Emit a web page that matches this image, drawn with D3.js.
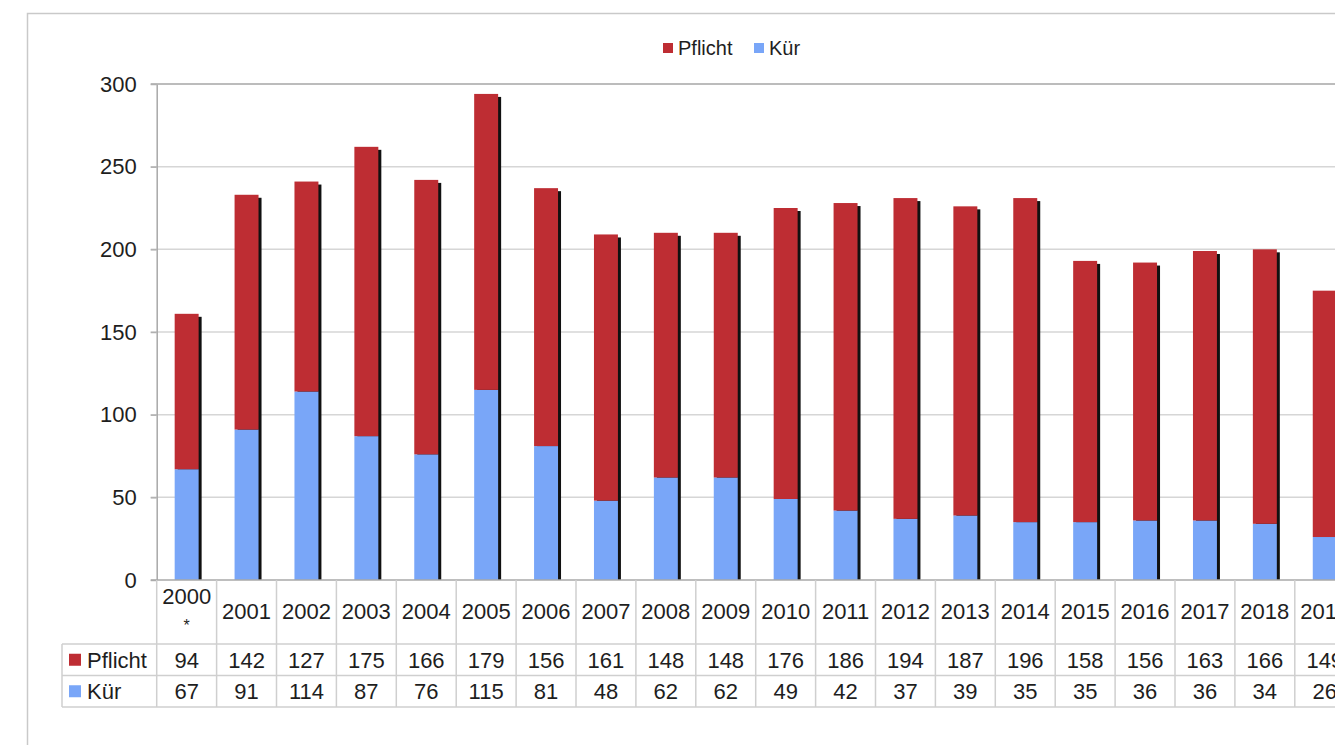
<!DOCTYPE html>
<html>
<head>
<meta charset="utf-8">
<script src="https://cdn.jsdelivr.net/npm/d3@7"></script>
<style>
  body { margin: 0; background: #fff; }
  svg { display: block; font-family: "Liberation Sans", Arial, sans-serif; }
</style>
</head>
<body>
<svg id="chart"></svg>
<script>
const years = ['2000 *', '2001', '2002', '2003', '2004', '2005', '2006', '2007', '2008', '2009',
  '2010', '2011', '2012', '2013', '2014', '2015', '2016', '2017', '2018', '2019'];
const pflicht = [94, 142, 127, 175, 166, 179, 156, 161, 148, 148, 176, 186, 194, 187, 196, 158, 156, 163, 166, 149];
const kuer = [67, 91, 114, 87, 76, 115, 81, 48, 62, 62, 49, 42, 37, 39, 35, 35, 36, 36, 34, 26];
const yTicks = [0, 50, 100, 150, 200, 250, 300];
const seriesNames = ['Pflicht', 'Kür'];
const colors = { 'Pflicht': '#be2d33', 'Kür': '#79a6f8' };

const W = 1335, H = 745;
const plot = { left: 156.7, top: 84, bottom: 580, step: 59.9 };
plot.right = plot.left + plot.step * years.length;

const svg = d3.select('#chart').attr('width', W).attr('height', H);
svg.append('rect').attr('width', W).attr('height', H).attr('fill', '#fff');

// outer frame (runs past the window on the right / bottom)
svg.append('rect')
  .attr('x', 27.5).attr('y', 13.5).attr('width', 1420).attr('height', 800)
  .attr('fill', 'none').attr('stroke', '#c9c9c9').attr('stroke-width', 1.5);

const x = d3.scaleBand().domain(years).range([plot.left, plot.right]).padding(0);
const xb = d3.scaleBand().domain(years).range([plot.left, plot.right])
  .paddingInner(0.6).paddingOuter(0.3);
const y = d3.scaleLinear().domain([0, 300]).range([plot.bottom, plot.top]);

// gridlines
svg.append('g').selectAll('line')
  .data(yTicks.filter(d => d > 0))
  .join('line')
  .attr('x1', plot.left - 6).attr('x2', plot.right)
  .attr('y1', d => y(d)).attr('y2', d => y(d))
  .attr('stroke', d => d === 300 ? '#bcbcbc' : '#d6d6d6')
  .attr('stroke-width', d => d === 300 ? 2 : 1.5);

// y axis
const yAxis = svg.append('g')
  .attr('transform', `translate(${plot.left},0)`)
  .call(d3.axisLeft(y).tickValues(yTicks).tickSize(6).tickPadding(14).tickSizeOuter(0));
yAxis.select('.domain').attr('stroke', '#a8a8a8').attr('stroke-width', 1.5);
yAxis.selectAll('.tick line').attr('stroke', '#b0b0b0').attr('stroke-width', 1.5);
yAxis.selectAll('.tick text')
  .attr('font-size', 22).attr('fill', '#1e1e1e')
  .attr('font-family', '"Liberation Sans", Arial, sans-serif');

// stacked data
const rows = years.map((yr, i) => ({ year: yr, 'Kür': kuer[i], 'Pflicht': pflicht[i] }));
const stack = d3.stack().keys(['Kür', 'Pflicht'])(rows);
const totals = rows.map(r => r['Kür'] + r['Pflicht']);

// shadows
svg.append('g').selectAll('rect')
  .data(rows)
  .join('rect')
  .attr('x', d => xb(d.year) + 3)
  .attr('y', (d, i) => y(totals[i]) + 3)
  .attr('width', xb.bandwidth())
  .attr('height', (d, i) => y(0) - y(totals[i]) - 3)
  .attr('fill', '#111');

svg.append('g').selectAll('g')
  .data(stack)
  .join('g')
  .attr('fill', s => colors[s.key])
  .selectAll('rect')
  .data(s => s)
  .join('rect')
  .attr('x', d => xb(d.data.year))
  .attr('y', d => y(d[1]))
  .attr('width', xb.bandwidth())
  .attr('height', d => y(d[0]) - y(d[1]));

// baseline
svg.append('line')
  .attr('x1', plot.left - 6).attr('x2', plot.right)
  .attr('y1', y(0)).attr('y2', y(0))
  .attr('stroke', '#a8a8a8').attr('stroke-width', 1.5);

// data table
const tbl = { catBottom: 644, rowH: 31.5, keyLeft: 62 };
const gridColor = '#cfcfcf';
const tg = svg.append('g');
const tableBottom = tbl.catBottom + tbl.rowH * 2;

// vertical lines
tg.selectAll('line.v')
  .data(years.concat(['end']))
  .join('line')
  .attr('class', 'v')
  .attr('x1', (d, i) => plot.left + i * plot.step)
  .attr('x2', (d, i) => plot.left + i * plot.step)
  .attr('y1', y(0)).attr('y2', tableBottom)
  .attr('stroke', gridColor).attr('stroke-width', 1.5);
tg.append('line')
  .attr('x1', tbl.keyLeft).attr('x2', tbl.keyLeft)
  .attr('y1', tbl.catBottom).attr('y2', tableBottom)
  .attr('stroke', gridColor).attr('stroke-width', 1.5);
// horizontal lines
[tbl.catBottom, tbl.catBottom + tbl.rowH, tableBottom].forEach(yy => {
  tg.append('line')
    .attr('x1', tbl.keyLeft).attr('x2', plot.right)
    .attr('y1', yy).attr('y2', yy)
    .attr('stroke', gridColor).attr('stroke-width', 1.5);
});

// category labels
tg.selectAll('text.cat')
  .data(years)
  .join('text')
  .attr('class', 'cat')
  .attr('text-anchor', 'middle')
  .attr('font-size', 22).attr('fill', '#1e1e1e')
  .attr('x', d => x(d) + x.bandwidth() / 2)
  .attr('y', d => d.includes(' ') ? 604 : 619)
  .text(d => d.split(' ')[0]);
// footnote mark under the first year
tg.selectAll('text.mark')
  .data(years.filter(d => d.includes(' ')))
  .join('text')
  .attr('class', 'mark')
  .attr('text-anchor', 'middle')
  .attr('font-size', 16).attr('fill', '#1e1e1e')
  .attr('x', d => x(d) + x.bandwidth() / 2)
  .attr('y', 631)
  .text(d => d.split(' ')[1]);

// value rows
const series = [pflicht, kuer];
seriesNames.forEach((name, r) => {
  const rowTop = tbl.catBottom + r * tbl.rowH;
  const ty = rowTop + tbl.rowH / 2 + 8;
  tg.append('rect')
    .attr('x', 69).attr('y', rowTop + tbl.rowH / 2 - 6)
    .attr('width', 12).attr('height', 12)
    .attr('fill', colors[name]);
  tg.append('text')
    .attr('x', 87).attr('y', ty)
    .attr('font-size', 22).attr('fill', '#1e1e1e')
    .text(name);
  tg.selectAll(null)
    .data(series[r])
    .join('text')
    .attr('x', (d, i) => x(years[i]) + x.bandwidth() / 2)
    .attr('y', ty)
    .attr('text-anchor', 'middle')
    .attr('font-size', 22).attr('fill', '#1e1e1e')
    .text(d => d);
});

// legend
const legend = svg.append('g');
const legendItems = [{ name: 'Pflicht', x: 663 }, { name: 'Kür', x: 754 }];
legendItems.forEach(it => {
  legend.append('rect')
    .attr('x', it.x).attr('y', 43)
    .attr('width', 10).attr('height', 10)
    .attr('fill', colors[it.name]);
  legend.append('text')
    .attr('x', it.x + 15).attr('y', 55)
    .attr('font-size', 20).attr('fill', '#1e1e1e')
    .text(it.name);
});
</script>
</body>
</html>
